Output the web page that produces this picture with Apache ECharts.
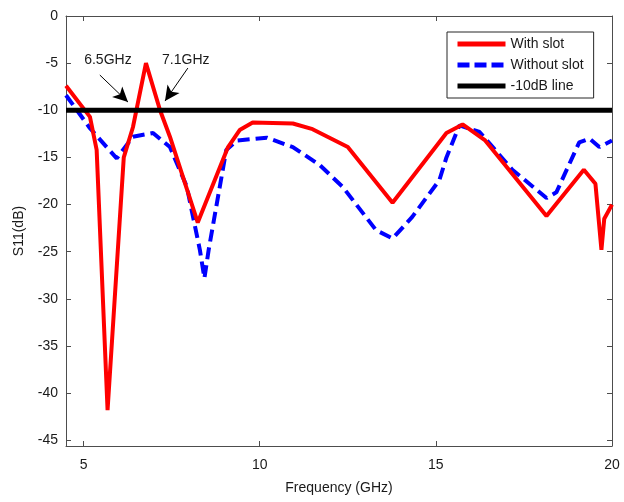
<!DOCTYPE html>
<html lang="en">
<head>
    <meta charset="UTF-8">
    <title>S11</title>
    <script src="https://cdn.jsdelivr.net/npm/echarts@6/dist/echarts.min.js"></script>
</head>
<body style="margin:0;background:#fff;">
    <div id="main" style="position:absolute;left:0;top:0;width:624px;height:502px"></div>
    <script>
        // data
        var freqSlot = [4.5, 5.18, 5.37, 5.68, 6.14, 6.4, 6.77, 7.17, 7.45, 8.24, 9.1, 9.43, 9.8, 10.94, 11.5, 12.5, 13.77, 15.3, 15.76, 16.4, 18.14, 19.2, 19.53, 19.7, 19.78, 20.0];
        var s11Slot = [-7.4, -10.7, -14.2, -41.8, -15.0, -11.8, -5.0, -10.0, -12.8, -21.9, -13.9, -12.1, -11.3, -11.4, -12.0, -13.9, -19.8, -12.4, -11.5, -13.2, -21.2, -16.3, -17.8, -24.8, -21.5, -20.0];

        var freqNoSlot = [4.5, 5.18, 5.94, 6.4, 6.97, 7.45, 7.93, 8.3, 8.43, 8.55, 9.05, 9.35, 10.2, 10.94, 11.7, 12.35, 13.3, 13.77, 14.33, 15.1, 15.3, 15.67, 16.24, 17.17, 18.14, 18.42, 19.07, 19.36, 19.64, 20.0];
        var s11NoSlot = [-8.4, -11.9, -15.1, -12.8, -12.4, -13.9, -18.1, -24.8, -27.8, -24.8, -14.2, -13.2, -12.9, -13.9, -15.8, -18.1, -22.7, -23.6, -21.3, -17.4, -15.0, -11.6, -12.3, -16.3, -19.3, -18.7, -13.4, -13.0, -13.9, -13.2];

        var refLevel = -10;
        var xTicks = [5, 10, 15, 20];
        var yTicks = [0, -5, -10, -15, -20, -25, -30, -35, -40, -45];

        var noteText = ['6.5GHz', '7.1GHz'];
        var notePos = [[5.69, -4.67], [7.9, -4.67]];
        var arrowFrom = [[5.46, -6.26], [7.96, -5.52]];
        var arrowTo = [[6.26, -9.13], [7.31, -9.02]];

        function pairs(xs, ys) {
            return xs.map(function (x, i) { return [x, ys[i]]; });
        }

        var fontFam = 'Liberation Sans, Arial, sans-serif';
        var axisColor = '#4d4d4d';
        var textColor = '#1a1a1a';

        var chart = echarts.init(document.getElementById('main'));
        chart.setOption({
            animation: false,
            textStyle: { fontFamily: fontFam },
            grid: { left: 66, right: 12, top: 16, bottom: 56 },
            legend: {
                orient: 'vertical',
                left: 447,
                top: 32,
                padding: [5, 10, 5, 8],
                itemGap: 7,
                itemWidth: 48,
                itemHeight: 14,
                borderColor: '#262626',
                borderWidth: 1,
                backgroundColor: '#fff',
                itemStyle: { opacity: 0 },
                textStyle: { fontSize: 14, color: textColor, fontFamily: fontFam },
                data: [
                    { name: 'With slot', lineStyle: { width: 5 } },
                    { name: 'Without slot', lineStyle: { width: 5, type: [12, 5] } },
                    { name: '-10dB line', lineStyle: { width: 5 } }
                ]
            },
            xAxis: [{
                type: 'value', min: 4.5, max: 20,
                name: 'Frequency (GHz)', nameLocation: 'middle', nameGap: 35,
                nameTextStyle: { fontSize: 14, color: textColor },
                axisLine: { onZero: false, lineStyle: { color: axisColor } },
                axisTick: { inside: true, length: 5, customValues: xTicks, lineStyle: { color: axisColor } },
                axisLabel: { customValues: xTicks, fontSize: 14, color: textColor, margin: 12 },
                splitLine: { show: false }
            }, {
                type: 'value', min: 4.5, max: 20, position: 'top',
                axisLine: { onZero: false, lineStyle: { color: axisColor } },
                axisTick: { inside: true, length: 5, customValues: xTicks, lineStyle: { color: axisColor } },
                axisLabel: { show: false },
                splitLine: { show: false }
            }],
            yAxis: [{
                type: 'value', min: -45.6, max: 0,
                name: 'S11(dB)', nameLocation: 'middle', nameGap: 40,
                nameTextStyle: { fontSize: 14, color: textColor },
                axisLine: { show: true, onZero: false, lineStyle: { color: axisColor } },
                axisTick: { show: true, inside: true, length: 5, customValues: yTicks, lineStyle: { color: axisColor } },
                axisLabel: { customValues: yTicks, fontSize: 14, color: textColor, margin: 8 },
                splitLine: { show: false }
            }, {
                type: 'value', min: -45.6, max: 0, position: 'right',
                axisLine: { show: true, onZero: false, lineStyle: { color: axisColor } },
                axisTick: { show: true, inside: true, length: 5, customValues: yTicks, lineStyle: { color: axisColor } },
                axisLabel: { show: false },
                splitLine: { show: false }
            }],
            series: [{
                name: 'With slot',
                type: 'line',
                symbol: 'none',
                data: pairs(freqSlot, s11Slot),
                itemStyle: { color: '#ff0000' },
                lineStyle: { color: '#ff0000', width: 4 },
                z: 3
            }, {
                name: 'Without slot',
                type: 'line',
                symbol: 'none',
                data: pairs(freqNoSlot, s11NoSlot),
                itemStyle: { color: '#0000ff' },
                lineStyle: { color: '#0000ff', width: 4, type: [12, 6] },
                z: 2
            }, {
                name: '-10dB line',
                type: 'line',
                symbol: 'none',
                data: [[4.5, refLevel], [20, refLevel]],
                itemStyle: { color: '#000' },
                lineStyle: { color: '#000', width: 5 },
                z: 4,
                markLine: {
                    silent: true,
                    symbol: ['none', 'arrow'],
                    symbolSize: [11, 15],
                    label: { show: false },
                    lineStyle: { color: '#000', width: 1, type: 'solid' },
                    data: arrowFrom.map(function (p, i) {
                        return [{ coord: p }, { coord: arrowTo[i] }];
                    })
                }
            }, {
                name: 'notes',
                type: 'scatter',
                symbolSize: 0,
                silent: true,
                itemStyle: { opacity: 1 },
                data: notePos.map(function (p, i) { return { value: p, name: noteText[i] }; }),
                label: {
                    show: true,
                    position: 'inside',
                    formatter: '{b}',
                    fontSize: 14,
                    color: textColor,
                    opacity: 1,
                    fontFamily: fontFam
                }
            }]
        });
    </script>
</body>
</html>
